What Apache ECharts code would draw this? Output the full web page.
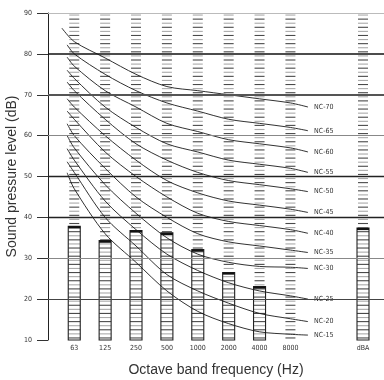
<!DOCTYPE html>
<html><head><meta charset="utf-8">
<script src="https://cdn.jsdelivr.net/npm/echarts@6/dist/echarts.min.js"></script>
<style>html,body{margin:0;padding:0;background:#fff}#c{width:384px;height:380px}</style>
</head><body><div id="c"></div>
<script>
// Octave bands (x positions on a numeric axis; dBA column is set apart)
const bandLabels = ['63','125','250','500','1000','2000','4000','8000','dBA'];
const bandPos = [0, 1, 2, 3, 4, 5, 6, 7, 9.35];
// Measured levels (filled bars), null = no bar
const measured = [37.8, 34.3, 36.8, 36.2, 32.1, 26.5, 23.1, null, 37.4];
// Y axis ticks
const yTicks = [10, 20, 30, 40, 50, 60, 70, 80, 90];

// NC curves: values at 63..8000 Hz
const ncNames = ['NC-70','NC-65','NC-60','NC-55','NC-50','NC-45','NC-40','NC-35','NC-30','NC-25','NC-20','NC-15'];
const nc70 = [83, 79, 75, 72, 71, 70, 69, 68];
const nc65 = [80, 75, 71, 68, 66, 64, 63, 62];
const nc60 = [77, 71, 67, 63, 61, 59, 58, 57];
const nc55 = [74, 67, 62, 58, 56, 54, 53, 52];
const nc50 = [71, 64, 58, 54, 51, 49, 48, 47];
const nc45 = [67, 60, 54, 49, 46, 44, 43, 42];
const nc40 = [64, 56, 50, 45, 41, 39, 38, 37];
const nc35 = [60, 52, 45, 40, 36, 34, 33, 32];
const nc30 = [57, 48, 41, 35, 31, 29, 28, 27.8];
const nc25 = [54, 44, 37, 31, 27, 24, 22, 20.8];
const nc20 = [51, 40, 33, 26, 22, 19, 16.5, 15.2];
const nc15 = [47, 36, 29, 22, 17, 14, 12, 11.4];
const ncValues = [nc70, nc65, nc60, nc55, nc50, nc45, nc40, nc35, nc30, nc25, nc20, nc15];
// curve ends drawn beyond 63 Hz and 8000 Hz
const ncStartPos = [-0.4, -0.23, -0.23, -0.23, -0.23, -0.23, -0.23, -0.23, -0.23, -0.23, -0.23, -0.23];
const ncStart = [86.3, 82.2, 79.2, 76, 73.1, 69, 66, 62.9, 60, 56.8, 53.6, 50.9];
const ncEndPos = 7.57;
const ncEnd = [67, 61.2, 56, 51, 46.3, 41.2, 36.1, 31.4, 27.5, 20, 14.5, 11.2];

const gridStyles = {
  20: {color:'#444', width:1.2}, 30: {color:'#888', width:1}, 40: {color:'#222', width:1.4},
  50: {color:'#222', width:1.4}, 60: {color:'#888', width:1}, 70: {color:'#555', width:1.8},
  80: {color:'#111', width:1.5}, 90: {color:'#bbb', width:1}
};

const narrow = "'Liberation Sans Narrow','DejaVu Sans Condensed','DejaVu Sans',sans-serif";

function renderColumn(params, api) {
  const x = api.value(0);
  const top = api.value(1);
  const hasBar = top > 10;
  const children = [];
  for (let k = 10; k < 90; k++) {
    const p = api.coord([x, k + 0.5]);
    const inBar = hasBar && k + 0.5 < top;
    const hw = inBar ? 6 : 5;
    children.push({type:'line', shape:{x1:p[0]-hw, y1:p[1], x2:p[0]+hw, y2:p[1]},
      style:{stroke: (k % 2) ? '#aaaaaa' : '#4a4a4a', lineWidth:1.1}});
  }
  if (hasBar) {
    const b = api.coord([x, 10]);
    const t = api.coord([x, top]);
    children.push({type:'rect', shape:{x:b[0]-6, y:t[1], width:12, height:b[1]-t[1]},
      style:{fill:'none', stroke:'#222', lineWidth:1.1}});
    children.push({type:'line', shape:{x1:t[0]-6, y1:t[1]+1, x2:t[0]+6, y2:t[1]+1},
      style:{stroke:'#111', lineWidth:2.2}});
  }
  return {type:'group', children};
}

const series = [{
  type:'custom', renderItem: renderColumn, z:1, silent:true,
  data: bandPos.map((p, i) => [p, measured[i] == null ? 0 : measured[i]]),
  markLine: {
    silent:true, symbol:'none', label:{show:false}, animation:false,
    data: yTicks.filter(v => gridStyles[v]).map(v => ({yAxis:v, lineStyle:{color:gridStyles[v].color, width:gridStyles[v].width, type:'solid'}}))
  }
}];

ncNames.forEach((name, i) => {
  const pts = [[ncStartPos[i], ncStart[i]]];
  ncValues[i].forEach((v, j) => pts.push([bandPos[j], v]));
  pts.push([ncEndPos, ncEnd[i]]);
  series.push({
    type:'line', name, data:pts, symbol:'none', smooth:0.3, z:3, silent:true,
    lineStyle:{color:'#1a1a1a', width:0.9},
    endLabel:{show:true, formatter:'{a}', fontSize:7, fontFamily:narrow, color:'#333', distance:6}
  });
});

const chart = echarts.init(document.getElementById('c'), null, {renderer:'canvas'});
chart.setOption({
  animation:false,
  backgroundColor:'#fff',
  grid:{left:48, right:0, top:13, bottom:40, containLabel:false, outerBoundsMode:'none'},
  xAxis:{
    type:'value', min:-0.85, max:10.03,
    name:'Octave band frequency (Hz)', nameLocation:'middle', nameGap:23, nameMoveOverlap:false,
    nameTextStyle:{fontSize:14, color:'#333', fontFamily:"'Liberation Sans',Arial,sans-serif"},
    axisLine:{show:false, onZero:false}, axisTick:{show:false}, splitLine:{show:false},
    axisLabel:{customValues:bandPos, margin:5, fontSize:7, fontFamily:narrow, color:'#333',
      formatter: v => { const i = bandPos.findIndex(p => Math.abs(p - v) < 1e-6); return i >= 0 ? bandLabels[i] : ''; }}
  },
  yAxis:{
    type:'value', min:10, max:90, interval:10,
    name:'Sound pressure level (dB)', nameLocation:'middle', nameGap:29, nameMoveOverlap:false,
    nameTextStyle:{fontSize:14, color:'#333', fontFamily:"'Liberation Sans',Arial,sans-serif"},
    axisLine:{show:true, onZero:false, lineStyle:{color:'#222', width:1}},
    axisTick:{show:true, length:11, lineStyle:{color:'#333', width:1}},
    splitLine:{show:false},
    axisLabel:{margin:16, fontSize:7, fontFamily:narrow, color:'#333'}
  },
  series
});
</script></body></html>
